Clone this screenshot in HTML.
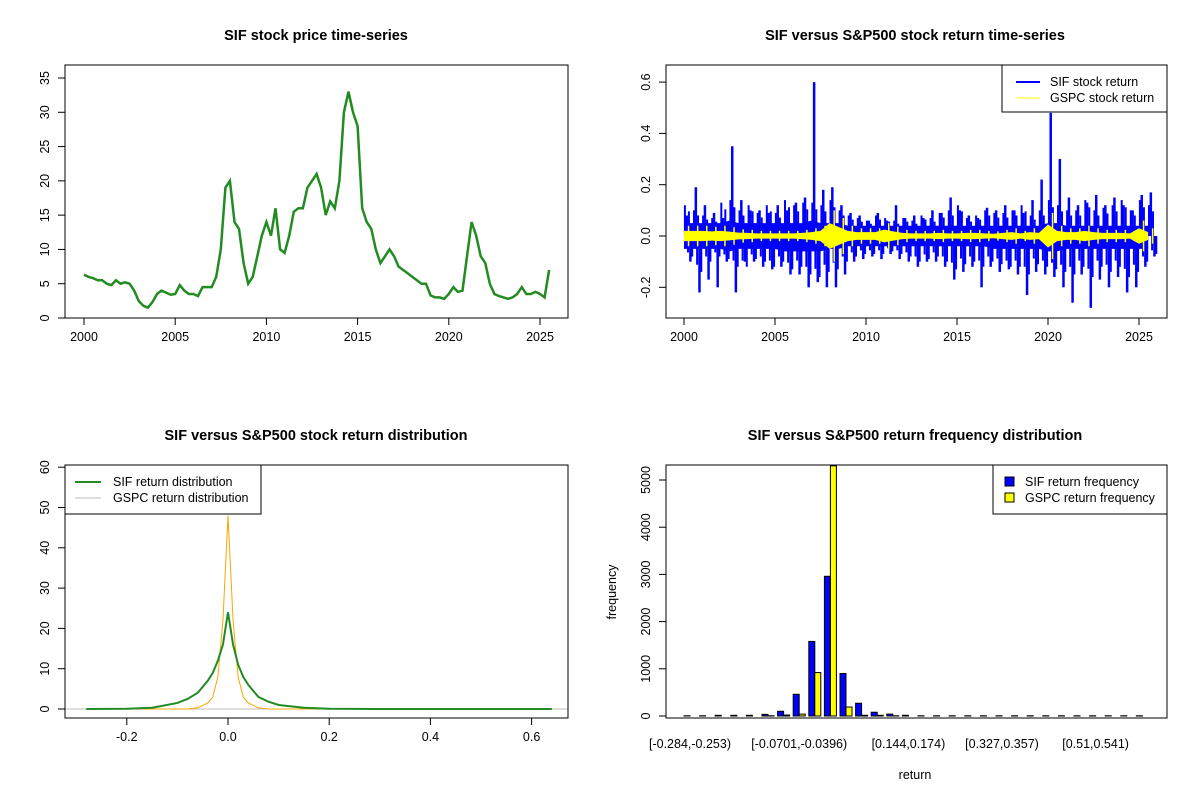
<!DOCTYPE html>
<html><head><meta charset="utf-8"><style>
body{margin:0;background:#fff;}
svg text{font-family:"Liberation Sans",Arial,sans-serif;}
</style></head><body>
<svg id="c" width="1200" height="800" xmlns="http://www.w3.org/2000/svg">
<rect width="1200" height="800" fill="#fff"/>
</svg>
<script>
// ---------- DATA ----------
const priceStartYear = 2000;
const priceQuarterly = [6.3,6,5.8,5.5, 5.5,5,4.8,5.5, 5,5.2,5,4, 2.5,1.8,1.5,2.3, 3.5,4,3.7,3.4, 3.5,4.8,4,3.5, 3.5,3.2,4.5,4.5, 4.5,6,10,19, 20,14,13,8, 5,6,9,12, 14,12,16,10, 9.5,12,15.5,16, 16,19,20,21, 19,15,17,16, 20,30,33,30, 28,16,14,13, 10,8,9,10, 9,7.5,7,6.5, 6,5.5,5,5, 3.3,3,3,2.8, 3.5,4.5,3.8,4, 9,14,12,9, 8,5,3.5,3.2, 3,2.8,3,3.5, 4.5,3.5,3.5,3.8, 3.5,3,7];
const priceYTicks = [0,5,10,15,20,25,30,35];
const yearTicks = [2000,2005,2010,2015,2020,2025];

const sifBandHi = [0.05,0.05,0.05,0.05,0.05,0.06,0.05,0.05,0.05,0.05,0.05,0.05,0.05,0.05,0.06,0.05,0.05,0.05,0.04,0.04,0.04,0.04,0.04,0.04,0.04,0.04,0.04,0.04,0.04,0.04,0.04,0.04,0.04,0.04,0.04,0.04,0.04,0.04,0.04,0.04,0.05,0.05,0.04,0.04,0.04,0.04,0.04,0.04,0.04,0.04,0.04,0.04];
const sifBandLo = [-0.05,-0.05,-0.05,-0.05,-0.05,-0.06,-0.05,-0.05,-0.05,-0.05,-0.05,-0.06,-0.06,-0.06,-0.06,-0.06,-0.05,-0.05,-0.04,-0.04,-0.04,-0.04,-0.04,-0.04,-0.04,-0.04,-0.04,-0.04,-0.04,-0.04,-0.04,-0.04,-0.04,-0.04,-0.05,-0.05,-0.05,-0.05,-0.05,-0.05,-0.06,-0.06,-0.05,-0.05,-0.05,-0.05,-0.05,-0.05,-0.05,-0.05,-0.05,-0.05];
const sifSpikeHi = [0.08,0.19,0.12,0.09,0.07,0.35,0.14,0.1,0.1,0.09,0.12,0.1,0.13,0.15,0.6,0.18,0.19,0.12,0.09,0.08,0.06,0.09,0.06,0.12,0.07,0.08,0.07,0.1,0.09,0.15,0.1,0.08,0.07,0.11,0.1,0.12,0.1,0.09,0.14,0.22,0.48,0.3,0.15,0.12,0.13,0.16,0.12,0.15,0.12,0.1,0.16,0.17];
const sifSpikeLo = [-0.1,-0.22,-0.17,-0.2,-0.1,-0.22,-0.1,-0.1,-0.12,-0.13,-0.12,-0.15,-0.15,-0.2,-0.18,-0.2,-0.2,-0.15,-0.1,-0.09,-0.08,-0.09,-0.07,-0.09,-0.1,-0.12,-0.1,-0.1,-0.12,-0.17,-0.14,-0.12,-0.2,-0.12,-0.14,-0.13,-0.15,-0.23,-0.14,-0.15,-0.16,-0.2,-0.26,-0.15,-0.28,-0.17,-0.2,-0.16,-0.22,-0.2,-0.12,-0.08];
const sifSpikeHi2 = [0.12,0.1,0.08,0.07,0.13,0.14,0.1,0.12,0.09,0.12,0.09,0.14,0.12,0.13,0.13,0.12,0.14,0.1,0.08,0.07,0.06,0.08,0.07,0.06,0.07,0.06,0.08,0.07,0.09,0.1,0.12,0.07,0.08,0.1,0.09,0.09,0.1,0.12,0.08,0.1,0.14,0.12,0.1,0.1,0.14,0.1,0.11,0.12,0.14,0.1,0.14,0.12];
const sifSpikeLo2 = [-0.08,-0.14,-0.1,-0.08,-0.09,-0.12,-0.12,-0.09,-0.1,-0.12,-0.1,-0.13,-0.12,-0.15,-0.16,-0.14,-0.13,-0.1,-0.08,-0.07,-0.07,-0.07,-0.06,-0.07,-0.08,-0.1,-0.09,-0.08,-0.1,-0.13,-0.11,-0.1,-0.12,-0.1,-0.11,-0.12,-0.12,-0.15,-0.11,-0.12,-0.13,-0.14,-0.15,-0.12,-0.16,-0.12,-0.14,-0.12,-0.16,-0.14,-0.1,-0.07];
const gspcBand = [0.02,0.02,0.02,0.018,0.02,0.017,0.013,0.012,0.01,0.01,0.01,0.01,0.01,0.012,0.015,0.02,0.05,0.035,0.02,0.015,0.015,0.015,0.025,0.018,0.012,0.01,0.01,0.01,0.012,0.01,0.01,0.012,0.012,0.01,0.009,0.012,0.015,0.01,0.015,0.012,0.045,0.02,0.015,0.015,0.02,0.015,0.012,0.012,0.012,0.01,0.03,0.015];
const retYTicks = [-0.2,0,0.2,0.4,0.6];

const densX = [-0.28,-0.2,-0.15,-0.1,-0.08,-0.06,-0.04,-0.03,-0.02,-0.01,-0.005,0,0.005,0.01,0.02,0.03,0.04,0.06,0.08,0.1,0.15,0.2,0.3,0.64];
const sifDens = [0,0.05,0.3,1.5,2.5,4,7,9,12,16,20,24,20,16,11,8,6,3,1.8,1,0.3,0.05,0,0];
const gspcDens = [0,0,0,0,0,0.3,1.5,3,8,22,35,48,35,22,8,3,1.5,0.3,0,0,0,0,0,0];
const densXTicks = [-0.2,0,0.2,0.4,0.6];
const densYTicks = [0,10,20,30,40,50,60];

const histLabels = ["[-0.284,-0.253)","[-0.0701,-0.0396)","[0.144,0.174)","[0.327,0.357)","[0.51,0.541)"];
const histLabelIdx = [0,7,14,20,26];
const sifFreq = [5,5,15,15,15,35,100,460,1580,2960,900,270,80,40,15,5,5,5,5,5,5,5,5,5,5,5,5,5,5,5];
const gspcFreq = [0,0,0,0,0,5,20,40,920,5300,190,15,15,5,0,0,0,0,0,0,0,0,0,0,0,0,0,0,0,0];
const freqYTicks = [0,1000,2000,3000,4000,5000];

// ---------- HELPERS ----------
const svg = document.getElementById('c');
const NS = 'http://www.w3.org/2000/svg';
function mk(tag, attrs, parent){const e=document.createElementNS(NS,tag);for(const k in attrs)e.setAttribute(k,attrs[k]);(parent||svg).appendChild(e);return e;}
function txt(s,x,y,attrs){const e=mk('text',Object.assign({x:x,y:y,'font-size':12.5,fill:'#000','text-anchor':'middle'},attrs||{}));e.textContent=s;return e;}
function lin(d0,d1,r0,r1){return v=>r0+(v-d0)*(r1-r0)/(d1-d0);}
function box(x0,y0,x1,y1){return mk('rect',{x:x0,y:y0,width:x1-x0,height:y1-y0,fill:'none',stroke:'#000','stroke-width':1});}
function xAxis(ticks,sx,y,fmt){ticks.forEach(t=>{const x=sx(t);mk('line',{x1:x,y1:y,x2:x,y2:y+7,stroke:'#000'});txt(fmt?fmt(t):String(t),x,y+23);});mk('line',{x1:sx(ticks[0]),y1:y,x2:sx(ticks[ticks.length-1]),y2:y,stroke:'#000'});}
function yAxis(ticks,sy,x,fmt){ticks.forEach(t=>{const y=sy(t);mk('line',{x1:x,y1:y,x2:x-7,y2:y,stroke:'#000'});txt(fmt?fmt(t):String(t),x-16,y,{transform:'rotate(-90 '+(x-16)+' '+y+')'});});mk('line',{x1:x,y1:sy(ticks[0]),x2:x,y2:sy(ticks[ticks.length-1]),stroke:'#000'});}
function title(s,x,y){return txt(s,x,y,{'font-size':14.5,'font-weight':'bold'});}
function spike(x,y0,y1,col,w){const l=mk('line',{x1:x,y1:y0,x2:x,y2:y1,stroke:col,'stroke-width':w});
 
 
 return l;}

// ---------- PANEL 1 ----------
(function(){
 const sx=lin(2000,2025,84,540), sy=lin(0,35,318,78);
 const t=title('SIF stock price time-series',316,40);
 const pts=priceQuarterly.map((v,i)=>sx(priceStartYear+i*0.25).toFixed(1)+','+sy(v).toFixed(1)).join(' ');
 const pl=mk('polyline',{points:pts,fill:'none',stroke:'#228B22','stroke-width':2.5});
 
 const b=box(65,65,568,318);
 xAxis(yearTicks,sx,318);yAxis(priceYTicks,sy,65);
})();

// ---------- PANEL 2 ----------
(function(){
 const sx=lin(2000,2025,684,1139), sy=lin(0,0.2,236,184.7);
 const t=title('SIF versus S&P500 stock return time-series',915,40);
 const yr=i=>2000+i*0.5;
 let up=sifBandHi.map((v,i)=>sx(yr(i))+','+sy(v)), dn=sifBandLo.map((v,i)=>sx(yr(i))+','+sy(v)).reverse();
 const band=mk('polygon',{points:up.concat(dn).join(' '),fill:'#0000ff'});
 
 sifSpikeHi.forEach((v,i)=>spike(sx(yr(i)+0.15),sy(0),sy(v),'#0000ff',2.5));
 sifSpikeLo.forEach((v,i)=>spike(sx(yr(i)+0.35),sy(0),sy(v),'#0000ff',2.5));
 sifSpikeHi2.forEach((v,i)=>spike(sx(yr(i)+0.05),sy(0),sy(v),'#0000ff',2));
 sifSpikeHi2.forEach((v,i)=>spike(sx(yr(i)+0.27),sy(0),sy(v*0.8),'#0000ff',2));
 sifSpikeLo2.forEach((v,i)=>spike(sx(yr(i)+0.45),sy(0),sy(v),'#0000ff',2));
 sifSpikeLo2.forEach((v,i)=>spike(sx(yr(i)+0.22),sy(0),sy(v*0.8),'#0000ff',2));
 let gu=gspcBand.map((v,i)=>sx(yr(i))+','+sy(v)), gd=gspcBand.map((v,i)=>sx(yr(i))+','+sy(-v)).reverse();
 const gb=mk('polygon',{points:gu.concat(gd).join(' '),fill:'#ffff00'});
 
 gspcBand.forEach((v,i)=>spike(sx(yr(i)+0.25),sy(-v*2),sy(v*2),'#ffff00',1.5));
 const b=box(666,65,1167,318);
 xAxis(yearTicks,sx,318);yAxis(retYTicks,sy,666,v=>v.toFixed(1));
 const lg=mk('g',{});
 mk('rect',{x:1002,y:65,width:165,height:47,fill:'#fff',stroke:'#000'},lg);
 mk('line',{x1:1016,y1:82,x2:1040,y2:82,stroke:'#0000ff','stroke-width':2},lg);
 mk('line',{x1:1016,y1:98,x2:1040,y2:98,stroke:'#ffff00','stroke-width':1},lg);
 txt('SIF stock return',1050,86,{'text-anchor':'start'});
 txt('GSPC stock return',1050,102,{'text-anchor':'start'});
})();

// ---------- PANEL 3 ----------
(function(){
 const sx=lin(0,0.2,228,329.2), sy=lin(0,10,709,668.7);
 const t=title('SIF versus S&P500 stock return distribution',316,440);
 const base=mk('line',{x1:65,y1:sy(0),x2:568,y2:sy(0),stroke:'#bebebe'});
 const gp=mk('polyline',{points:densX.map((x,i)=>sx(x)+','+sy(gspcDens[i])).join(' '),fill:'none',stroke:'#ffa500','stroke-width':1});
 
 const sp=mk('polyline',{points:densX.map((x,i)=>sx(x)+','+sy(sifDens[i])).join(' '),fill:'none',stroke:'#228B22','stroke-width':2});
 
 const b=box(65,465,568,718);
 xAxis(densXTicks,sx,718,v=>v.toFixed(1));yAxis(densYTicks,sy,65);
 const lg=mk('g',{});
 mk('rect',{x:65,y:465,width:196,height:49,fill:'#fff',stroke:'#000'},lg);
 mk('line',{x1:75,y1:482,x2:101,y2:482,stroke:'#228B22','stroke-width':2},lg);
 mk('line',{x1:75,y1:498,x2:101,y2:498,stroke:'#bebebe','stroke-width':1},lg);
 txt('SIF return distribution',113,486,{'text-anchor':'start'});
 txt('GSPC return distribution',113,502,{'text-anchor':'start'});
})();

// ---------- PANEL 4 ----------
(function(){
 const sy=lin(0,1000,716,668.8);
 const gx=i=>690+i*15.6;
 const t=title('SIF versus S&P500 return frequency distribution',915,440);
 const clip=mk('clipPath',{id:'hc'});mk('rect',{x:666,y:465,width:501,height:253},clip);
 const g=mk('g',{'clip-path':'url(#hc)'});
 sifFreq.forEach((v,i)=>{const r=mk('rect',{x:gx(i)-6,y:sy(v),width:6,height:sy(0)-sy(v),fill:'#0000ff',stroke:'#000','stroke-width':1},g);});
 gspcFreq.forEach((v,i)=>{const r=mk('rect',{x:gx(i),y:sy(v),width:6,height:sy(0)-sy(v),fill:'#ffff00',stroke:'#000','stroke-width':1},g);});
 const b=box(666,465,1167,718);
 yAxis(freqYTicks,sy,666);
 histLabels.forEach((s,k)=>{const e=txt(s,gx(histLabelIdx[k]),748);});
 const xl=txt('return',915,779);
 const yl=txt('frequency',616,592,{transform:'rotate(-90 616 592)'});
 const lg=mk('g',{});
 mk('rect',{x:993,y:465,width:174,height:49,fill:'#fff',stroke:'#000'},lg);
 mk('rect',{x:1005,y:477,width:9,height:9,fill:'#0000ff',stroke:'#000'},lg);
 mk('rect',{x:1005,y:493,width:9,height:9,fill:'#ffff00',stroke:'#000'},lg);
 txt('SIF return frequency',1025,486,{'text-anchor':'start'});
 txt('GSPC return frequency',1025,502,{'text-anchor':'start'});
})();
</script>
</body></html>
